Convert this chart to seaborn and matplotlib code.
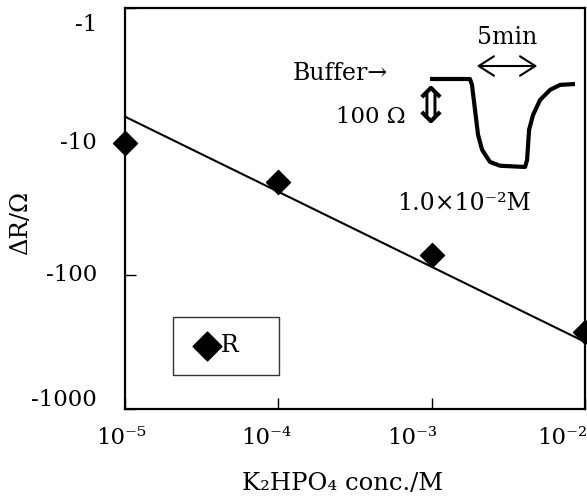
import numpy as np
import pandas as pd
import matplotlib
matplotlib.use("Agg")
import matplotlib.pyplot as plt
import matplotlib.transforms as mtransforms
import seaborn as sns
from matplotlib.ticker import FixedLocator, NullLocator

# ---- data ----
conc = [1e-5, 1e-4, 1e-3, 1e-2]            # K2HPO4 concentration (M)
delta_r = [-10.2, -20.0, -70.0, -265.0]    # ΔR (Ω)
trend_conc = [1e-5, 1e-2]                  # trend line ends
trend_dr = [-6.5, -315.0]
y_ticks = [-1, -10, -100, -1000]
y_tick_labels = ["-1", "-10", "-100", "-1000"]
x_ticks = [1e-5, 1e-4, 1e-3, 1e-2]
x_tick_labels = ["10⁻⁵", "10⁻⁴", "10⁻³", "10⁻²"]

# inset response trace (time in min, resistance change in Ω)
trace_t = [0, 3.17, 3.33, 3.57, 3.81, 4.13, 4.76, 5.56, 7.54, 7.70, 7.86, 8.17, 8.73, 9.52, 10.32, 11.5]
trace_r = [0, 0, -14, -74, -133, -169, -198, -207, -210, -193, -121, -86, -50, -26, -14, -12]

sns.set_theme(style="white")
plt.rcParams["font.family"] = ["DejaVu Serif", "DejaVu Sans"]

W, H = 587, 497
fig = plt.figure(figsize=(W / 100, H / 100), dpi=100)
fig.patch.set_facecolor("white")

def fx(x):
    return x / W

def fy(y):
    return 1 - y / H

AX_L, AX_R, AX_T, AX_B = 125, 585, 8, 409
ax = fig.add_axes([fx(AX_L), fy(AX_B), fx(AX_R) - fx(AX_L), fy(AX_T) - fy(AX_B)])
ax.set_facecolor("white")

df = pd.DataFrame({"conc": conc, "mag": [-v for v in delta_r]})
tdf = pd.DataFrame({"conc": trend_conc, "mag": [-v for v in trend_dr]})

sns.lineplot(data=tdf, x="conc", y="mag", ax=ax, color="black", lw=1.5, legend=False)
sns.scatterplot(data=df, x="conc", y="mag", ax=ax, marker="D", s=150, color="black",
                edgecolor="black", label="R   ", zorder=5, clip_on=False)

ax.set_xscale("log")
ax.set_yscale("log")
ax.set_xlim(1e-5, 1e-2)
ax.set_ylim(1000, 1)

ax.xaxis.set_major_locator(FixedLocator(x_ticks))
ax.xaxis.set_minor_locator(NullLocator())
ax.yaxis.set_major_locator(FixedLocator([-v for v in y_ticks]))
ax.yaxis.set_minor_locator(NullLocator())
ax.set_xticklabels([])
ax.set_yticklabels([])
ax.tick_params(axis="both", direction="in", length=8, width=1, colors="black",
               bottom=True, left=True, top=False, right=False)

# tick labels placed by hand (pixel offsets as in the reference)
x_lab_dx = [-4, -12, -19, -23]
for xv, lab, dx in zip(x_ticks, x_tick_labels, x_lab_dx):
    tr = mtransforms.offset_copy(ax.get_xaxis_transform(), fig=fig, x=dx, y=-29, units="dots")
    ax.text(xv, 0, lab, transform=tr, ha="center", va="center", fontsize=16.5, color="black")
y_lab_dy = [-17, -1, 0, 9]
for yv, lab, dy in zip(y_ticks, y_tick_labels, y_lab_dy):
    tr = mtransforms.offset_copy(ax.get_yaxis_transform(), fig=fig, x=-28, y=dy, units="dots")
    ax.text(0, -yv, lab, transform=tr, ha="right", va="center", fontsize=16.5, color="black")

for sp in ax.spines.values():
    sp.set_visible(True)
    sp.set_color("black")
    sp.set_linewidth(1.6)

ax.set_xlabel("K₂HPO₄ conc./M", fontsize=17.5, color="black")
ax.set_ylabel("ΔR/Ω", fontsize=17.5, color="black")
ax.xaxis.set_label_coords((343 - AX_L) / (AX_R - AX_L), (AX_B - 483) / (AX_B - AX_T))
ax.yaxis.set_label_coords((21 - AX_L) / (AX_R - AX_L), (AX_B - 223) / (AX_B - AX_T))
ax.xaxis.label.set_va("center")
ax.yaxis.label.set_va("center")

leg = ax.legend(loc="lower left",
                bbox_to_anchor=((173 - AX_L) / (AX_R - AX_L), (AX_B - 375) / (AX_B - AX_T)),
                borderaxespad=0, frameon=True, fancybox=False, edgecolor="black", fontsize=17,
                handletextpad=-0.1, borderpad=0.75, handlelength=1.38, markerscale=1.2)
leg.get_frame().set_linewidth(1.0)
for t in leg.get_texts():
    t.set_color("black")

# ---- inset: response trace ----
iax = fig.add_axes([fx(430), fy(167), fx(575) - fx(430), fy(79) - fy(167)])
iax.plot(trace_t, trace_r, color="black", lw=3.0, solid_capstyle="butt", solid_joinstyle="round")
iax.set_xlim(0, 11.5)
iax.set_ylim(-210, 0)
iax.axis("off")
iax.patch.set_alpha(0)
for l in iax.lines:
    l.set_clip_on(False)

fig.text(fx(293), fy(74), "Buffer→", fontsize=17, va="center", ha="left", color="black")
fig.text(fx(507), fy(38), "5min", fontsize=17, va="center", ha="center", color="black")
fig.add_artist(matplotlib.patches.FancyArrowPatch((fx(474), fy(66)), (fx(540), fy(66)),
               transform=fig.transFigure, arrowstyle="<->,head_length=0.55,head_width=0.35",
               mutation_scale=20, lw=1.5, color="black"))
fig.text(fx(371), fy(117), "100 Ω", fontsize=16.5, va="center", ha="center", color="black")
fig.text(fx(431), fy(109), "⇕", fontsize=36, va="center", ha="center", color="black",
         family=["DejaVu Sans"])
fig.text(fx(464), fy(204), "1.0×10⁻²M", fontsize=17, va="center", ha="center", color="black")

fig.savefig("out.png", dpi=100, facecolor="white")
